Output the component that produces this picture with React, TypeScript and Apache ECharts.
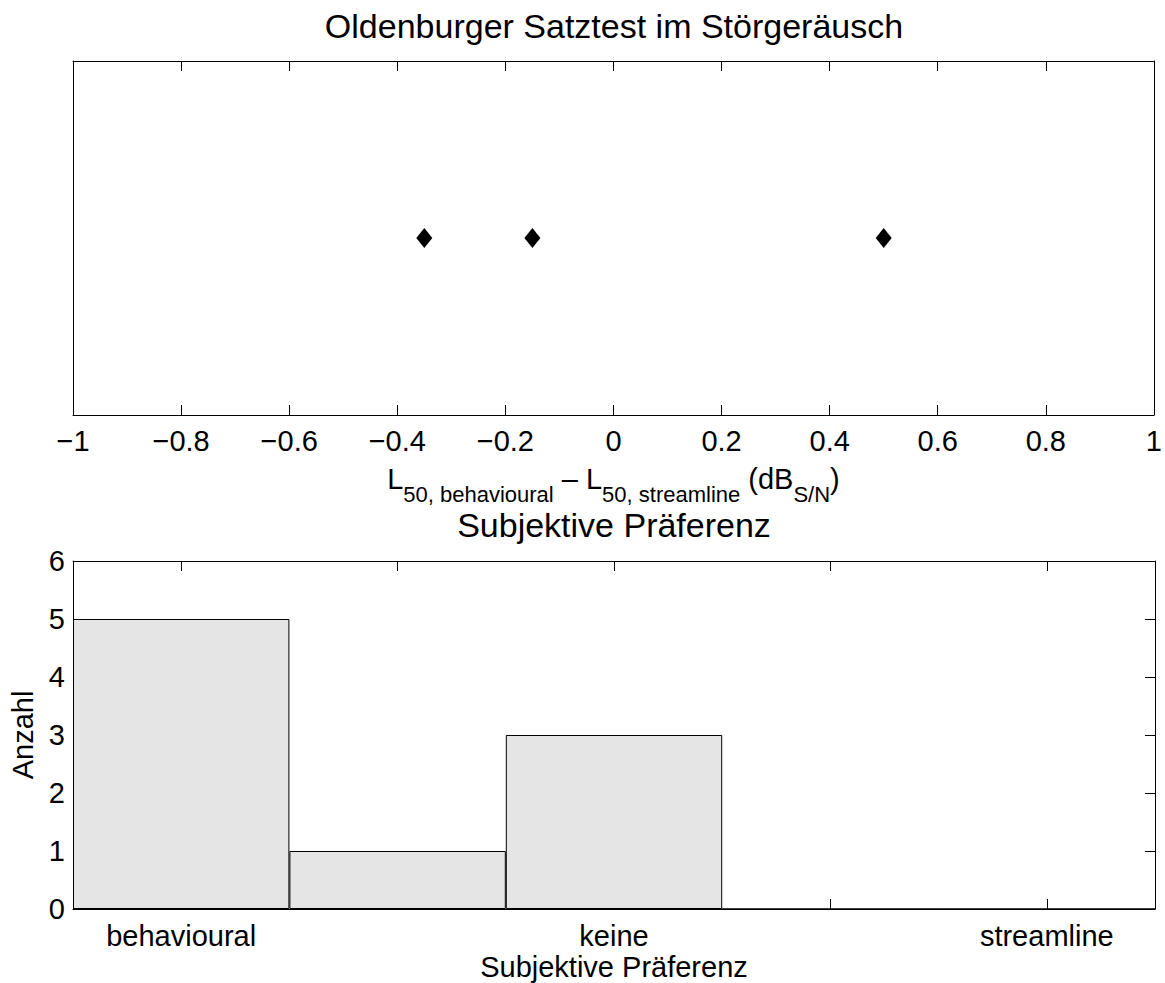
import React, { useEffect, useRef } from "react";
import * as echarts from "echarts";

const FONT = "'Liberation Sans', Arial, Helvetica, sans-serif";

// Top panel: L50 differences (dB S/N)
const diffValues = [-0.35, -0.15, 0.5];
const diffRow = [0, 0, 0];
const diffTickMin = -1;
const diffTickMax = 1;
const diffTickStep = 0.2;

// Bottom panel: subjective preference histogram
const prefCategories = ["behavioural", "", "keine", "", "streamline"];
const prefCounts = [5, 1, 3, 0, 0];
const countMin = 0;
const countMax = 6;
const countStep = 1;

const titleTop = "Oldenburger Satztest im Störgeräusch";
const titleBottom = "Subjektive Präferenz";
const xNameBottom = "Subjektive Präferenz";
const yNameBottom = "Anzahl";

function fmtTick(v: number): string {
  const r = parseFloat(v.toFixed(1));
  if (r === 0) return "0";
  return r < 0 ? "\u2212" + String(Math.abs(r)) : String(r);
}

export default function App() {
  const ref = useRef<HTMLDivElement>(null);
  useEffect(() => {
    if (!ref.current) return;
    const chart = echarts.init(ref.current, undefined, { renderer: "svg" });
    const black = "#000";
    const lineStyle = { color: black, width: 1 };
    const AX = 29;
    const TI = 34;
    const labelBase = { color: black, fontSize: AX, fontFamily: FONT };
    const titleStyle = (text: string) => ({
      text,
      fontSize: TI,
      fontFamily: FONT,
      fill: black,
      align: "center",
      verticalAlign: "middle",
      textAlign: "center",
      textVerticalAlign: "middle",
    });
    const option: any = {
      animation: false,
      backgroundColor: "#fff",
      textStyle: { fontFamily: FONT, color: black },
      grid: [
        { left: 73, right: 10, top: 61, height: 354 },
        { left: 73, right: 10, top: 561, height: 348 },
      ],
      graphic: [
        { type: "text", x: 614, y: 26, style: titleStyle(titleTop) },
        { type: "text", x: 614, y: 525, style: titleStyle(titleBottom) },
      ],
      xAxis: [
        {
          type: "value",
          gridIndex: 0,
          position: "bottom",
          min: diffTickMin,
          max: diffTickMax,
          interval: diffTickStep,
          axisLine: { show: true, onZero: false, lineStyle },
          axisTick: { show: true, inside: true, length: 10, lineStyle },
          axisLabel: { ...labelBase, margin: 11, formatter: fmtTick },
          splitLine: { show: false },
          name:
            "{n|L}{s|50, behavioural}{n| \u2013 L}{s|50, streamline}{n| (dB}{s|S/N}{n|)}",
          nameLocation: "middle",
          nameGap: 49,
          nameMoveOverlap: false,
          nameTextStyle: {
            color: black,
            fontFamily: FONT,
            rich: {
              n: {
                fontSize: AX,
                fontFamily: FONT,
                color: black,
                verticalAlign: "top",
              },
              s: {
                fontSize: 22,
                fontFamily: FONT,
                color: black,
                lineHeight: 41,
                verticalAlign: "bottom",
              },
            },
          },
        },
        {
          type: "value",
          gridIndex: 0,
          position: "top",
          min: diffTickMin,
          max: diffTickMax,
          interval: diffTickStep,
          axisLine: { show: true, onZero: false, lineStyle },
          axisTick: { show: true, inside: true, length: 10, lineStyle },
          axisLabel: { show: false },
          splitLine: { show: false },
        },
        {
          type: "category",
          gridIndex: 1,
          position: "bottom",
          data: prefCategories,
          boundaryGap: true,
          axisLine: { show: true, onZero: false, lineStyle },
          axisTick: {
            show: true,
            inside: true,
            length: 10,
            alignWithLabel: true,
            interval: 0,
            lineStyle,
          },
          axisLabel: { ...labelBase, margin: 12, interval: 0 },
          splitLine: { show: false },
          name: xNameBottom,
          nameLocation: "middle",
          nameGap: 43,
          nameTextStyle: { ...labelBase },
        },
        {
          type: "category",
          gridIndex: 1,
          position: "top",
          data: prefCategories,
          boundaryGap: true,
          axisLine: { show: true, onZero: false, lineStyle },
          axisTick: {
            show: true,
            inside: true,
            length: 10,
            alignWithLabel: true,
            interval: 0,
            lineStyle,
          },
          axisLabel: { show: false },
          splitLine: { show: false },
        },
      ],
      yAxis: [
        {
          type: "value",
          gridIndex: 0,
          position: "left",
          min: -1,
          max: 1,
          axisLine: { show: true, onZero: false, lineStyle },
          axisTick: { show: false },
          axisLabel: { show: false },
          splitLine: { show: false },
        },
        {
          type: "value",
          gridIndex: 0,
          position: "right",
          min: -1,
          max: 1,
          axisLine: { show: true, onZero: false, lineStyle },
          axisTick: { show: false },
          axisLabel: { show: false },
          splitLine: { show: false },
        },
        {
          type: "value",
          gridIndex: 1,
          position: "left",
          min: countMin,
          max: countMax,
          interval: countStep,
          axisLine: { show: true, onZero: false, lineStyle },
          axisTick: { show: true, inside: true, length: 10, lineStyle },
          axisLabel: { ...labelBase, margin: 8 },
          splitLine: { show: false },
          name: yNameBottom,
          nameLocation: "middle",
          nameGap: 31,
          nameTextStyle: { ...labelBase },
        },
        {
          type: "value",
          gridIndex: 1,
          position: "right",
          min: countMin,
          max: countMax,
          interval: countStep,
          axisLine: { show: true, onZero: false, lineStyle },
          axisTick: { show: true, inside: true, length: 10, lineStyle },
          axisLabel: { show: false },
          splitLine: { show: false },
        },
      ],
      series: [
        {
          type: "scatter",
          xAxisIndex: 0,
          yAxisIndex: 0,
          data: diffValues.map((v, i) => [v, diffRow[i]]),
          symbol: "diamond",
          symbolSize: [16, 20],
          itemStyle: { color: black, opacity: 1 },
          z: 5,
        },
        {
          type: "bar",
          xAxisIndex: 2,
          yAxisIndex: 2,
          data: prefCounts,
          barWidth: "100%",
          barCategoryGap: "0%",
          itemStyle: { color: "#e5e5e5", borderColor: black, borderWidth: 1 },
        },
      ],
    };
    chart.setOption(option);
    return () => chart.dispose();
  }, []);
  return (
    <div
      ref={ref}
      style={{
        position: "fixed",
        left: 0,
        top: 0,
        width: 1165,
        height: 983,
        background: "#fff",
      }}
    />
  );
}
